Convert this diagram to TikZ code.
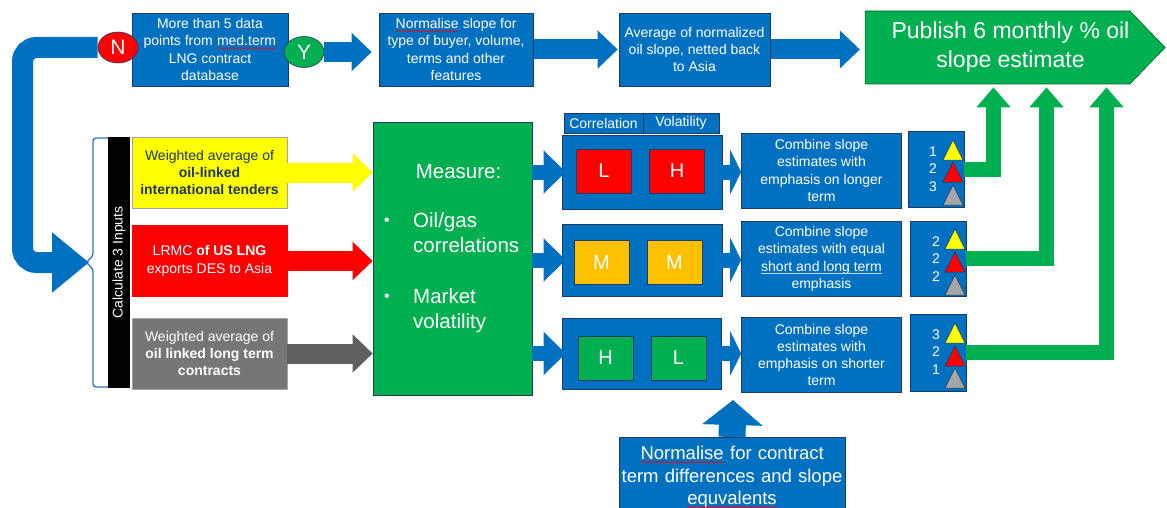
\documentclass[tikz,border=0pt]{standalone}
\usepackage{fontspec}
\setmainfont{Liberation Sans}
\usepackage{xcolor}
\definecolor{azul}{RGB}{0,112,192}
\definecolor{azulOscuro}{RGB}{31,56,100}
\definecolor{azulLlave}{RGB}{46,117,182}
\definecolor{azulClaro}{RGB}{189,215,238}
\definecolor{verde}{RGB}{0,176,80}
\definecolor{rojo}{RGB}{255,0,0}
\definecolor{amarillo}{RGB}{255,255,0}
\definecolor{ambar}{RGB}{255,192,0}
\definecolor{gris}{RGB}{118,118,118}
\definecolor{grisOscuro}{RGB}{96,96,96}
\definecolor{grisClaro}{RGB}{166,166,166}
\usepackage{tikz}
\usetikzlibrary{arrows.meta,shapes.geometric,shapes.symbols,decorations.pathmorphing,backgrounds}
\tikzstyle{box}   =[rectangle, draw=azulOscuro, fill=azul, line width=0.6pt,
                    text=white, align=center, inner sep=0pt,
                    font=\fontsize{14}{17.3}\selectfont]
\tikzstyle{entrada}=[box, draw=gray!70, minimum width=155pt, minimum height=71pt]
\tikzstyle{celda} =[box, minimum width=55pt, minimum height=44pt,
                    font=\fontsize{20}{24}\selectfont]
\tikzstyle{yn}    =[ellipse, draw=azulOscuro, line width=0.6pt, text=white,
                    minimum width=40pt, minimum height=31pt, inner sep=0pt,
                    font=\fontsize{21}{24}\selectfont]
\tikzstyle{texto} =[text=white, inner sep=0pt, font=\fontsize{20.5}{25}\selectfont]
\tikzstyle{marca} =[inner sep=0pt, outer sep=0pt, minimum width=0pt, minimum height=0pt,
                    draw=none, fill=none, anchor=base]
\tikzstyle{flecha}=[draw=azul, line width=20pt, -{Triangle[width=37pt,length=20pt]}]
\tikzstyle{flechaE}=[line width=20pt, -{Triangle[width=37pt,length=20pt]}]
\tikzstyle{flechaM}=[draw=azul, line width=15pt, -{Triangle[width=42pt,length=22pt]}]
\tikzstyle{flechaC}=[draw=azul, line width=15pt, -{Triangle[width=44pt,length=11pt]}]
\tikzstyle{flechaV}=[draw=verde, line width=15pt, -{Triangle[width=33pt,length=20pt]}]
\tikzstyle{tri}   =[draw=azulOscuro, line width=0.5pt]
% spell-check marks as in the picture
\newcommand{\corrige}[1]{\tikz[baseline=(w.base)]{\node[marca] (w) {#1};
  \draw[rojo, line width=0.5pt, decorate, decoration={snake, amplitude=0.7pt, segment length=3pt}]
    ([yshift=-2.5pt]w.base west) -- ([yshift=-2.5pt]w.base east);}}
\newcommand{\subraya}[1]{\tikz[baseline=(w.base)]{\node[marca] (w) {#1};
  \draw[azulClaro, line width=0.7pt] ([yshift=-2.5pt]w.base west) -- ([yshift=-2.5pt]w.base east);}}

\begin{document}
\begin{tikzpicture}[x=1pt,y=-1pt]
    \useasboundingbox (0,0) rectangle (1167,508);

    % top row
    \draw (210,49.5) node (1) [box, minimum width=156pt, minimum height=73pt] {More than 5 data\\points from \corrige{med.term}\\LNG contract\\database};
    \draw (118,47.5) node (2) [yn, fill=rojo] {N};
    \draw (304,52) node (3) [yn, fill=verde] {Y};
    \draw (456,49.5) node (4) [box, minimum width=154pt, minimum height=73pt] {\corrige{Normalise} slope for\\type of buyer, volume,\\terms and other\\features};
    \draw (694.5,49.5) node (5) [box, minimum width=151pt, minimum height=73pt] {Average of normalized\\oil slope, netted back\\to Asia};
    \draw (997.5,47.5) node (6) [signal, signal to=east, signal pointer angle=92,
        minimum width=300pt, minimum height=73pt, inner sep=0pt, fill=verde,
        draw=verde!55!black, line width=0.6pt, text=white, align=center,
        font=\fontsize{23}{29}\selectfont] {\hspace*{26pt}Publish 6 monthly \% oil\\\hspace*{26pt}slope estimate};

    % inputs
    \coordinate (7) at (89,262.5);
    \draw (119,262.5) node (8) [rectangle, fill=black, rotate=90, minimum width=251pt,
        minimum height=22pt, inner sep=0pt, text=white,
        font=\fontsize{14}{17}\selectfont] {Calculate 3 Inputs};
    \draw[azulLlave, line width=1.3pt, rounded corners=3pt]
        (108,138) -- (93,138) -- (93,256) -- (86,262.5) -- (93,269) -- (93,387) -- (108,387);
    \draw (209.5,172.5) node (9) [entrada, fill=amarillo, text=azulOscuro] {Weighted average of\\\textbf{oil-linked}\\\textbf{international tenders}};
    \draw (209.5,261) node (10) [entrada, fill=rojo, draw=rojo] {LRMC \textbf{of US LNG}\\exports DES to Asia};
    \draw (209.5,353.5) node (11) [entrada, fill=gris] {Weighted average of\\\textbf{oil linked long term}\\\textbf{contracts}};

    % measure
    \draw (452.5,258.5) node (12) [rectangle, fill=verde, draw=azulOscuro, line width=0.6pt,
        minimum width=159pt, minimum height=273pt] {};
    \draw (458.5,172) node (13) [texto] {Measure:};
    \draw (387,222) node (14) [texto, font=\fontsize{16}{18}\selectfont] {\textbullet};
    \draw (413,233) node (15) [texto, anchor=west, align=left] {Oil/gas\\correlations};
    \draw (387,298) node (16) [texto, font=\fontsize{16}{18}\selectfont] {\textbullet};
    \draw (413,311) node (17) [texto, anchor=west, align=left] {Market\\volatility};

    % ratings
    \draw (603.5,123) node (18) [box, minimum width=79pt, minimum height=20pt] {Correlation};
    \draw (681,123) node (19) [box, minimum width=76pt, minimum height=20pt] {Volatility};
    \draw (642,172) node (20) [box, minimum width=160pt, minimum height=74pt] {};
    \draw (642,260) node (21) [box, minimum width=160pt, minimum height=72pt] {};
    \draw (641.5,353.5) node (22) [box, minimum width=159pt, minimum height=71pt] {};
    \draw (604,171) node (23) [celda, fill=rojo] {L};
    \draw (677,171) node (24) [celda, fill=rojo] {H};
    \draw (601.5,262.5) node (25) [celda, fill=ambar] {M};
    \draw (674.5,262.5) node (26) [celda, fill=ambar] {M};
    \draw (605.5,358) node (27) [celda, fill=verde] {H};
    \draw (678.5,358) node (28) [celda, fill=verde] {L};

    % combine
    \draw (821.5,170.5) node (29) [box, minimum width=160pt, minimum height=75pt] {Combine slope\\estimates with\\emphasis on longer\\term};
    \draw (821.5,259) node (30) [box, minimum width=160pt, minimum height=75pt] {Combine slope\\estimates with equal\\\subraya{short and long term}\\emphasis};
    \draw (821.5,355) node (31) [box, minimum width=160pt, minimum height=75pt] {Combine slope\\estimates with\\emphasis on shorter\\term};

    % weights
    \draw (936,169) node (32) [box, minimum width=56pt, minimum height=76pt] {};
    \draw (938,258.5) node (33) [box, minimum width=56pt, minimum height=75pt] {};
    \draw (938,352.5) node (34) [box, minimum width=56pt, minimum height=77pt] {};
    \draw (933,169) node (n1) [box, draw=none] {1\\2\\3};
    \draw (936,259) node (n2) [box, draw=none] {2\\2\\2};
    \draw (936,352) node (n3) [box, draw=none] {3\\2\\1};
    \foreach \x/\y/\c in {953/140/amarillo,953/162/rojo,953/185/grisClaro,
    955/229/amarillo,955/252/rojo,955/275/grisClaro,
    955/323/amarillo,955/346/rojo,955/368/grisClaro}
        \filldraw [tri, fill=\c] (\x,\y) -- ++(10,20) -- ++(-20,0) -- cycle;

    % normalise
    \draw (732,437) node (35) [box, anchor=north, text width=222pt, inner xsep=2pt,
        inner ysep=9pt, font=\fontsize{18.5}{22.5}\selectfont] {\corrige{Normalise} for contract\\term differences and slope\\\corrige{equvalents}};
    \coordinate (36) at (733,400);

    % connectors
    \begin{scope}[on background layer]
        \draw [draw=azul, line width=21pt, -{Triangle[width=58pt,length=37pt]}]
            (2.west) [rounded corners=14pt] -| (22.5,262.5) [rounded corners=26pt] -- (7);
        \foreach \i/\j/\s in {3/4/7,4/5/1,5/6/5}
            \draw [flecha, shorten >=\s pt] (\i.east) -- (\i.east -| \j.west);
    \end{scope}

    \foreach \i/\c in {9/amarillo,10/rojo,11/grisOscuro}
        \draw [flechaE, draw=\c] (\i.east) -- (\i.east -| 12.west);

    \foreach \j/\s in {20/-2,21/-3,22/-7}
        \draw [flechaM, yshift=\s pt, shorten >=-4pt] (12.east |- \j) -- (\j.west);

    \foreach \i/\j/\s in {20/29/2,21/30/2,22/31/-5.5}
        \draw [flechaC, yshift=\s pt] (\i.east) -- (\i.east -| \j.west);

    \foreach \i/\s in {32/-4,33/49,34/109}
        \draw [flechaV, shorten >=3pt] (\i.east) -| ([xshift=\s pt]6.south);

    \draw [draw=azul, line width=27pt, -{Triangle[width=59pt,length=25pt]}] (35.north) -- (36);

\end{tikzpicture}
\end{document}
